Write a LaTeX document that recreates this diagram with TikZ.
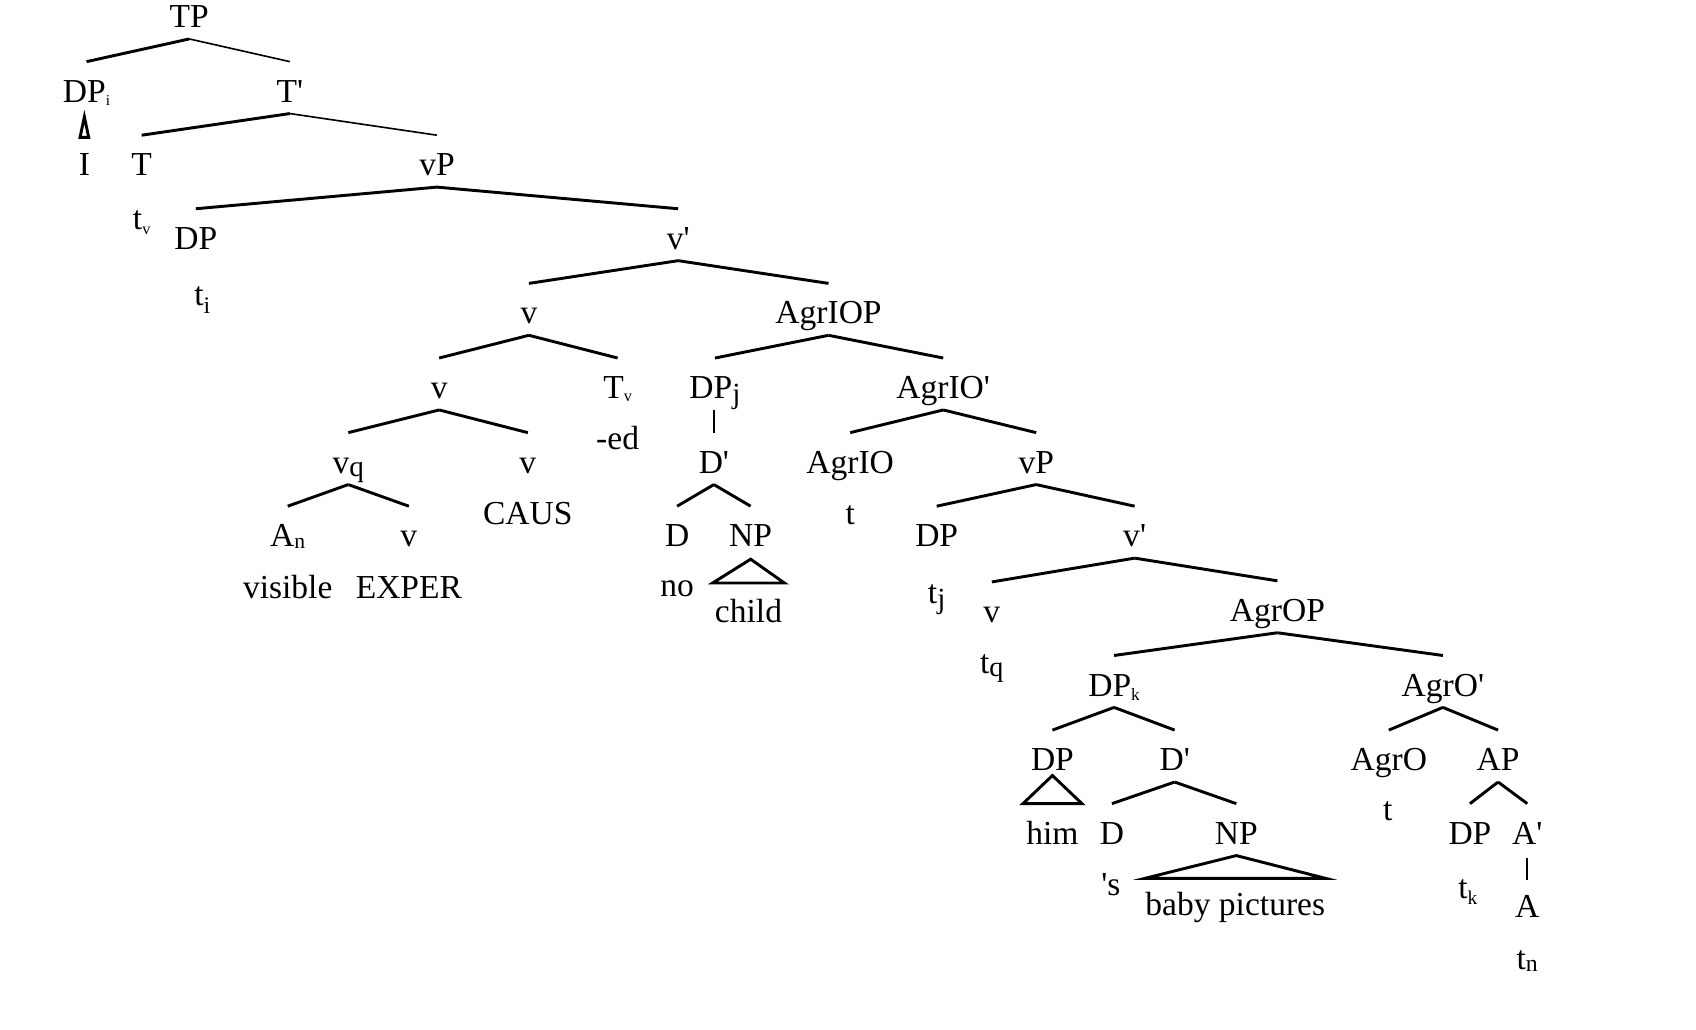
\documentclass[tikz,border=0pt]{standalone}
\usepackage{fontspec}
\setmainfont{Liberation Serif}[Ligatures=TeXOff]
\usepackage{graphicx}
\newcommand\lsub[3]{\raisebox{-#2pt}{\fontsize{#1}{#1}\selectfont #3}}
\newcommand\br[3][branch]{\draw[#1] ([yshift=-21pt]#2.center) -- ([yshift=27pt]#3.center);}
\begin{document}
\begin{tikzpicture}[x=1pt,y=-1pt,
  every node/.style={font=\fontsize{31}{36}\selectfont, text height=21pt, text depth=0pt, inner sep=0pt},
  branch/.style={line width=2.7pt},
  thinbr/.style={line width=1.5pt}]
\fill[white] (0,0) rectangle (1568,952);
\useasboundingbox (0,0) rectangle (1568,952);
% nodes
\node (tp) at (175,15) {TP};
\node (dpi) at (80,84) {DP\lsub{14}{3}{i}};
\node (tbar) at (268,84) {T'};
\node (I) at (78,152) {I};
\node (T) at (131,152) {T};
\node (tv) at (131,202) {t\lsub{15}{4}{v}};
\node (vp) at (404,152) {vP};
\node (dp1) at (181,220) {DP};
\node (ti) at (187,272) {t\lsub{22}{7}{i}};
\node (vbar) at (627,220) {v'};
\node (v1) at (489,289) {v};
\node (agriop) at (766,289) {AgrIOP};
\node (v2) at (406,358) {v};
\node (Tv) at (571,358) {T\lsub{15}{3}{v}};
\node (ed) at (571,405) {-ed};
\node (vq) at (322,427) {v\lsub{27}{3}{q}};
\node (v3) at (488,427) {v};
\node (caus) at (488,474) {CAUS};
\node (An) at (266,495) {A\lsub{20}{2}{n}};
\node (v4) at (378,495) {v};
\node (visible) at (266,543) {visible};
\node (exper) at (378,543) {EXPER};
\node (dpj) at (661,358) {DP\lsub{27}{5}{j}};
\node (dbar1) at (660,427) {D'};
\node (D1) at (626,495) {D};
\node (NP1) at (694,495) {NP};
\node (no) at (626,541) {no};
\node (child) at (692,565) {child};
\node (agriobar) at (872,358) {AgrIO'};
\node (agrio) at (786,427) {AgrIO};
\node (t1) at (786,474) {t};
\node (vp2) at (958,427) {vP};
\node (dp2) at (866,495) {DP};
\node (tj) at (866,547) {t\lsub{27}{5}{j}};
\node (vbar2) at (1049,495) {v'};
\node (v5) at (917,565) {v};
\node (tq) at (917,612) {t\lsub{26}{3}{q}};
\node (agrop) at (1181,564) {AgrOP};
\node (dpk) at (1030,633) {DP\lsub{16}{4}{k}};
\node (agrobar) at (1334,633) {AgrO'};
\node (dp3) at (973,702) {DP};
\node (dbar2) at (1086,702) {D'};
\node (agro) at (1284,702) {AgrO};
\node (ap) at (1385,702) {AP};
\node (him) at (973,770) {him};
\node (D2) at (1028,770) {D};
\node (s) at (1027,817) {'s};
\node (NP2) at (1143,770) {NP};
\node (baby) at (1142,836) {baby pictures};
\node (t2) at (1283,748) {t};
\node (dp4) at (1359,770) {DP};
\node (tk) at (1357,820) {t\lsub{18}{6}{k}};
\node (abar) at (1412,770) {A'};
\node (A) at (1412,838) {A};
\node (tn) at (1412,886) {t\lsub{22}{2}{n}};
% branches
\br{tp}{dpi}
\br[thinbr]{tp}{tbar}
\br{tbar}{T}
\br[thinbr]{tbar}{vp}
\br{vp}{dp1}
\br{vp}{vbar}
\br{vbar}{v1}
\br{vbar}{agriop}
\br{v1}{v2}
\br{v1}{Tv}
\br{v2}{vq}
\br{v2}{v3}
\br{vq}{An}
\br{vq}{v4}
\br{agriop}{dpj}
\br{agriop}{agriobar}
\draw[thinbr] ([yshift=48pt]dbar1.center) -- ([yshift=27pt]dbar1.center);
\br{dbar1}{D1}
\br{dbar1}{NP1}
\br{agriobar}{agrio}
\br{agriobar}{vp2}
\br{vp2}{dp2}
\br{vp2}{vbar2}
\br{vbar2}{v5}
\br{vbar2}{agrop}
\br{agrop}{dpk}
\br{agrop}{agrobar}
\br{dpk}{dp3}
\br{dpk}{dbar2}
\br{dbar2}{D2}
\br{dbar2}{NP2}
\br{agrobar}{agro}
\br{agrobar}{ap}
\br{ap}{dp4}
\br{ap}{abar}
\draw[thinbr] ([yshift=-23pt]abar.center) -- ([yshift=24pt]A.center);
% triangles
\draw[branch,line join=miter] ([yshift=44pt]I.center) -- ([xshift=-4pt,yshift=25pt]I.center) -- ([xshift=4pt,yshift=25pt]I.center) -- cycle;
\draw[branch] ([yshift=-22pt]NP1.center) -- ([xshift=-2pt,yshift=26pt]child.west) -- ([xshift=2pt,yshift=26pt]child.east) -- cycle;
\draw[branch] ([yshift=-15pt]dp3.center) -- ([xshift=-3pt,yshift=27pt]him.west) -- ([xshift=3pt,yshift=27pt]him.east) -- cycle;
\draw[branch] ([yshift=-21pt]NP2.center) -- ([yshift=24pt]baby.west) -- ([yshift=24pt]baby.east) -- cycle;
\end{tikzpicture}
\end{document}
